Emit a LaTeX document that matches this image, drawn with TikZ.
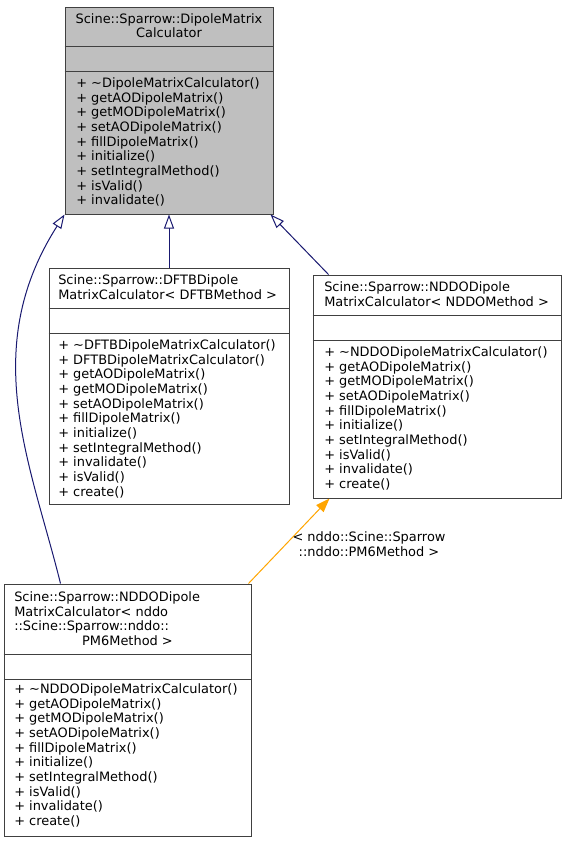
\documentclass[tikz,border=0pt]{standalone}
\usepackage{fontspec}
\setmainfont{DejaVu Sans}
\usepackage{tikz}
\usetikzlibrary{positioning, arrows.meta}
\definecolor{edgeblue}{HTML}{191970}
\definecolor{edgeorange}{HTML}{FFA500}
\definecolor{basefill}{HTML}{BFBFBF}
\definecolor{boxline}{HTML}{404040}

\begin{document}
\begin{tikzpicture}[x=0.75pt, y=-0.75pt,
  classbox/.style={draw=boxline, line width=0.75pt, inner sep=0pt},
  sepline/.style={draw=boxline, line width=0.75pt},
  members/.style={anchor=base west, align=left, inner sep=0pt, font=\fontsize{9.7}{11}\selectfont},
  inherit/.style={draw=edgeblue, line width=0.75pt, -{Triangle[open, length=10.5pt, width=7.5pt, fill=white]}},
  instance/.style={draw=edgeorange, line width=0.75pt, -{Triangle[length=10.5pt, width=7.5pt]}}]
\useasboundingbox (0,0) rectangle (565,843);
% base class
\node[classbox, fill=basefill, minimum width=156pt, minimum height=155.25pt] (dipole) at (169,110.5) {};
\draw[sepline] (dipole.west |- 0,46.5) -- (dipole.east |- 0,46.5);
\draw[sepline] (dipole.west |- 0,71.5) -- (dipole.east |- 0,71.5);
\node[members, anchor=base, align=center] (dipoletitle) at (169,37.7) {Scine::Sparrow::DipoleMatrix\\Calculator};
\node[members] (dipoleops) at (76,204.8) {+ \textasciitilde DipoleMatrixCalculator()\\+ getAODipoleMatrix()\\+ getMODipoleMatrix()\\+ setAODipoleMatrix()\\+ fillDipoleMatrix()\\+ initialize()\\+ setIntegralMethod()\\+ isValid()\\+ invalidate()};
% DFTB template
\node[classbox, minimum width=180pt, minimum height=177pt] (dftb) at (169,386) {};
\draw[sepline] (dftb.west |- 0,308) -- (dftb.east |- 0,308);
\draw[sepline] (dftb.west |- 0,333) -- (dftb.east |- 0,333);
\node[members] (dftbtitle) at (58,299.2) {Scine::Sparrow::DFTBDipole\\MatrixCalculator< DFTBMethod >};
\node[members] (dftbops) at (58,496.2) {+ \textasciitilde DFTBDipoleMatrixCalculator()\\+ DFTBDipoleMatrixCalculator()\\+ getAODipoleMatrix()\\+ getMODipoleMatrix()\\+ setAODipoleMatrix()\\+ fillDipoleMatrix()\\+ initialize()\\+ setIntegralMethod()\\+ invalidate()\\+ isValid()\\+ create()};
% NDDO template
\node[classbox, minimum width=186pt, minimum height=167.25pt] (nddo) at (437,386.5) {};
\draw[sepline] (nddo.west |- 0,315) -- (nddo.east |- 0,315);
\draw[sepline] (nddo.west |- 0,340) -- (nddo.east |- 0,340);
\node[members] (nddotitle) at (324,306.2) {Scine::Sparrow::NDDODipole\\MatrixCalculator< NDDOMethod >};
\node[members] (nddoops) at (324,488.5) {+ \textasciitilde NDDODipoleMatrixCalculator()\\+ getAODipoleMatrix()\\+ getMODipoleMatrix()\\+ setAODipoleMatrix()\\+ fillDipoleMatrix()\\+ initialize()\\+ setIntegralMethod()\\+ isValid()\\+ invalidate()\\+ create()};
% PM6 instance
\node[classbox, minimum width=185.25pt, minimum height=189pt] (pm6) at (127.5,710) {};
\draw[sepline] (pm6.west |- 0,654) -- (pm6.east |- 0,654);
\draw[sepline] (pm6.west |- 0,679) -- (pm6.east |- 0,679);
\node[members] (pm6title) at (14,630.8) {Scine::Sparrow::NDDODipole\\MatrixCalculator< nddo\\::Scine::Sparrow::nddo::};
\node[members, anchor=base] (pm6titleend) at (127.5,645.5) {PM6Method >};
\node[members] (pm6ops) at (14,825.5) {+ \textasciitilde NDDODipoleMatrixCalculator()\\+ getAODipoleMatrix()\\+ getMODipoleMatrix()\\+ setAODipoleMatrix()\\+ fillDipoleMatrix()\\+ initialize()\\+ setIntegralMethod()\\+ isValid()\\+ invalidate()\\+ create()};
% edges
\draw[inherit] (dftb.north) -- (dipole.south);
\draw[inherit] ([xshift=12pt]nddo.north west) -- ([xshift=-2.25pt]dipole.south east);
\draw[inherit] ([xshift=42.75pt]pm6.north west) .. controls (31,464) and (-22,350) .. (dipole.south west);
\draw[instance] ([xshift=-2.25pt]pm6.north east) -- ([xshift=12.75pt]nddo.south west);
\node[members, anchor=base, align=center] (pm6label) at (369,556.2) {< nddo::Scine::Sparrow\\::nddo::PM6Method >};
\end{tikzpicture}
\end{document}
